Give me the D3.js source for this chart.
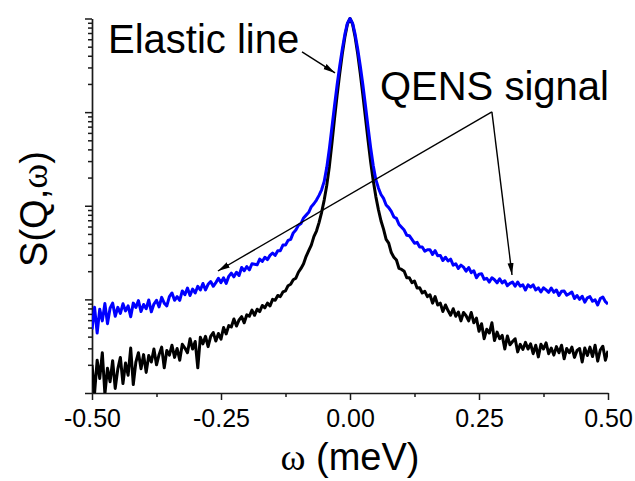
<!DOCTYPE html>
<html>
<head>
<meta charset="utf-8">
<script src="https://cdn.jsdelivr.net/npm/d3@7"></script>
<style>
  html, body { margin: 0; padding: 0; background: #fff; }
  svg { display: block; font-family: "Liberation Sans", Arial, sans-serif; }
</style>
</head>
<body>
<svg id="chart" width="635" height="481"></svg>
<script>
// Energy-transfer grid (meV): first point and spacing
const omegaStart = -0.5;
const omegaStep = 0.005;

// Energy-axis ticks
const xTicks = [-0.5, -0.25, 0, 0.25, 0.5];
const xTickLabels = ["-0.50", "-0.25", "0.00", "0.25", "0.50"];
const xMinorTicks = [-0.375, -0.125, 0.125, 0.375];

// S(Q,w) spectra, arbitrary units, one value per grid point
const broadSpectrum = [
  4.79, 8.22, 4.37, 7.85, 5.89, 9.02, 5.50, 8.04, 9.12, 6.61,
  8.22, 7.08, 8.97, 7.53, 8.51, 6.53, 9.12, 8.18, 9.70, 7.41,
  8.81, 7.94, 9.84, 7.36, 8.91, 9.77, 8.32, 10.5, 9.12, 8.51,
  10.7, 11.7, 9.77, 10.7, 9.77, 12.3, 11.2, 13.2, 11.0, 12.9,
  11.7, 13.8, 12.6, 14.8, 12.6, 14.5, 15.5, 13.8, 15.1, 16.8,
  15.1, 17.0, 14.8, 17.6, 19.1, 17.4, 19.5, 18.0, 21.9, 20.2,
  22.4, 20.7, 24.0, 23.7, 23.4, 26.9, 25.4, 28.2, 26.6, 29.5,
  31.3, 29.5, 33.1, 33.1, 38.0, 38.0, 42.7, 43.7, 51.3, 55.0,
  61.7, 64.6, 74.1, 79.4, 85.1, 97.7, 105, 115, 129, 148,
  182, 257, 407, 692, 1175, 1950, 3090, 4680, 6760, 8910,
  10000,
  8910, 6760, 4680, 3090, 1950, 1175, 692, 417, 269, 191,
  155, 132, 120, 102, 95.5, 87.1, 75.9, 73.3, 63.1, 58.9,
  55.0, 48.4, 47.9, 43.7, 39.8, 40.7, 36.3, 36.3, 32.7, 33.9,
  33.9, 30.2, 33.1, 29.2, 29.5, 26.0, 28.2, 25.7, 26.9, 23.2,
  24.0, 21.4, 23.2, 22.1, 20.0, 21.9, 19.3, 20.2, 17.0, 18.6,
  18.8, 16.4, 16.8, 15.3, 17.0, 16.2, 15.0, 16.6, 15.0, 15.8,
  14.0, 14.8, 15.3, 13.8, 15.3, 13.8, 14.3, 12.6, 14.3, 13.5,
  14.3, 12.6, 13.3, 12.0, 13.3, 12.6, 11.9, 13.2, 11.9, 12.6,
  11.0, 12.2, 12.3, 11.1, 11.5, 12.0, 10.2, 11.0, 10.0, 10.8,
  9.33, 10.4, 10.7, 9.55, 9.89, 8.71, 10.2, 10.6, 9.44, 8.91
];

const narrowSpectrum = [
  2.00, 1.00, 2.24, 1.43, 2.69, 0.977, 1.84, 1.32, 2.21, 1.12,
  1.80, 2.40, 1.26, 2.09, 1.55, 3.02, 1.23, 2.14, 2.69, 1.82,
  2.57, 1.66, 2.51, 2.14, 2.95, 2.00, 2.57, 3.09, 1.86, 2.85,
  2.54, 3.24, 2.40, 2.99, 2.24, 3.31, 3.02, 2.69, 3.80, 2.95,
  3.55, 1.86, 3.94, 3.35, 4.03, 3.13, 4.03, 4.42, 3.59, 4.32,
  3.76, 5.01, 4.27, 5.25, 5.07, 6.17, 5.19, 6.03, 6.53, 5.62,
  6.84, 6.61, 7.67, 6.76, 7.85, 7.41, 8.61, 8.13, 9.12, 8.51,
  10.0, 9.77, 11.0, 10.7, 12.0, 12.3, 14.0, 14.5, 16.2, 16.8,
  19.5, 21.4, 24.0, 28.8, 33.1, 38.0, 46.8, 53.7, 66.1, 85.1,
  115, 166, 263, 468, 851, 1510, 2570, 4170, 6310, 8710,
  10000,
  8710, 6310, 4170, 2570, 1510, 871, 501, 295, 186, 126,
  91.2, 69.2, 56.2, 43.7, 39.8, 31.6, 28.2, 26.3, 21.4, 20.9,
  20.0, 17.0, 17.0, 15.1, 15.7, 13.2, 13.3, 11.7, 12.2, 10.7,
  11.2, 9.12, 10.7, 8.71, 9.12, 7.41, 8.71, 7.59, 6.76, 7.94,
  6.61, 7.33, 5.89, 7.24, 6.68, 5.89, 7.24, 5.62, 6.31, 4.57,
  5.50, 3.80, 4.79, 4.37, 5.62, 3.63, 4.47, 3.80, 4.12, 2.95,
  4.07, 3.27, 3.55, 3.80, 2.75, 3.31, 2.92, 3.47, 2.95, 3.35,
  2.63, 3.24, 2.43, 3.31, 2.95, 3.43, 2.63, 3.02, 2.54, 3.13,
  2.69, 3.24, 2.32, 2.99, 2.69, 3.09, 2.40, 2.85, 2.99, 2.14,
  3.02, 2.51, 3.09, 2.45, 3.24, 2.19, 2.88, 3.16, 2.24, 2.82
];

// Annotation anchors in data coordinates [omega, S]
const elasticLabelAt = [-0.469, 4290];
const elasticArrow = [[-0.093, 4400], [-0.029, 2620]];
const qensLabelAt = [0.058, 1350];
const qensFork = [0.275, 1005];
const qensTips = [[-0.256, 20.1], [0.314, 18.2]];

const svg = d3.select("#chart");

const x = d3.scaleLinear().domain([-0.5, 0.5]).range([92, 608]);
const y = d3.scaleLog().domain([1, 1e4]).range([393, 18.5]);

const omegaAt = i => omegaStart + i * omegaStep;

// log axis ticks: decades and the 2..9 subdivisions
const decades = [1, 10, 100, 1000, 10000];
const subTicks = [];
decades.slice(0, -1).forEach(d => { for (let m = 2; m <= 9; m++) subTicks.push(m * d); });

const axisColor = "#1a1a1a";
function styleAxis(g) {
  g.selectAll(".domain").attr("stroke", axisColor).attr("stroke-width", 1.7);
  g.selectAll(".tick line").attr("stroke", axisColor).attr("stroke-width", 1.5);
}

// y axis (no labels)
svg.append("g").attr("transform", "translate(92,0)")
  .call(d3.axisLeft(y).tickValues(subTicks).tickSize(4).tickFormat(""))
  .call(g => g.select(".domain").remove())
  .call(styleAxis);
svg.append("g").attr("transform", "translate(92,0)")
  .call(d3.axisLeft(y).tickValues(decades).tickSize(7).tickSizeOuter(0).tickFormat(""))
  .call(styleAxis);

// x axis
svg.append("g").attr("transform", "translate(0,393)")
  .call(d3.axisBottom(x).tickValues(xMinorTicks).tickSize(4).tickFormat(""))
  .call(g => g.select(".domain").remove())
  .call(styleAxis);
const gx = svg.append("g").attr("transform", "translate(0,393)")
  .call(d3.axisBottom(x).tickValues(xTicks).tickSize(7).tickSizeOuter(0)
    .tickPadding(9).tickFormat((d, i) => xTickLabels[i]))
  .call(styleAxis);
gx.selectAll(".tick text")
  .attr("font-family", "Liberation Sans, Arial, sans-serif")
  .attr("font-size", 25).attr("fill", "#000");

// spectra, clipped to the frame
svg.append("defs").append("clipPath").attr("id", "frame")
  .append("rect").attr("x", 92).attr("y", 0).attr("width", 516).attr("height", 393);

const line = d3.line()
  .x((d, i) => x(omegaAt(i)))
  .y(d => y(Math.max(d, 0.3)));

const plot = svg.append("g").attr("clip-path", "url(#frame)");
plot.append("path").datum(narrowSpectrum)
  .attr("d", line).attr("fill", "none").attr("stroke", "#000")
  .attr("stroke-width", 3).attr("stroke-linejoin", "round");
plot.append("path").datum(broadSpectrum)
  .attr("d", line).attr("fill", "none").attr("stroke", "#0000ff")
  .attr("stroke-width", 3).attr("stroke-linejoin", "round");

// arrowheads
svg.select("defs").append("marker")
  .attr("id", "head").attr("viewBox", "0 0 12 8")
  .attr("refX", 12).attr("refY", 4)
  .attr("markerWidth", 12).attr("markerHeight", 8)
  .attr("markerUnits", "userSpaceOnUse").attr("orient", "auto")
  .append("path").attr("d", "M0,1 L12,4 L0,7 Z").attr("fill", "#000");

const px = p => [x(p[0]), y(p[1])];

const ann = svg.append("g").attr("stroke", "#000").attr("stroke-width", 1.4).attr("fill", "none");
ann.append("line")
  .attr("x1", px(elasticArrow[0])[0]).attr("y1", px(elasticArrow[0])[1])
  .attr("x2", px(elasticArrow[1])[0]).attr("y2", px(elasticArrow[1])[1])
  .attr("marker-end", "url(#head)");
qensTips.forEach(t => {
  ann.append("line")
    .attr("x1", px(qensFork)[0]).attr("y1", px(qensFork)[1])
    .attr("x2", px(t)[0]).attr("y2", px(t)[1])
    .attr("marker-end", "url(#head)");
});

svg.append("text").attr("x", px(elasticLabelAt)[0]).attr("y", px(elasticLabelAt)[1])
  .attr("font-size", 40).attr("fill", "#000").text("Elastic line");
svg.append("text").attr("x", px(qensLabelAt)[0]).attr("y", px(qensLabelAt)[1])
  .attr("font-size", 40).attr("fill", "#000").text("QENS signal");

// axis titles
const yTitle = svg.append("text")
  .attr("transform", "translate(47,209) rotate(-90)")
  .attr("text-anchor", "middle").attr("font-size", 38).attr("fill", "#000");
yTitle.append("tspan").text("S(Q,");
yTitle.append("tspan").attr("font-family", "Liberation Serif, Times New Roman, serif").text("ω");
yTitle.append("tspan").text(")");

const xTitle = svg.append("text")
  .attr("x", 350).attr("y", 470)
  .attr("text-anchor", "middle").attr("font-size", 38).attr("fill", "#000");
xTitle.append("tspan").attr("font-family", "Liberation Serif, Times New Roman, serif").text("ω");
xTitle.append("tspan").text(" (meV)");
</script>
</body>
</html>
